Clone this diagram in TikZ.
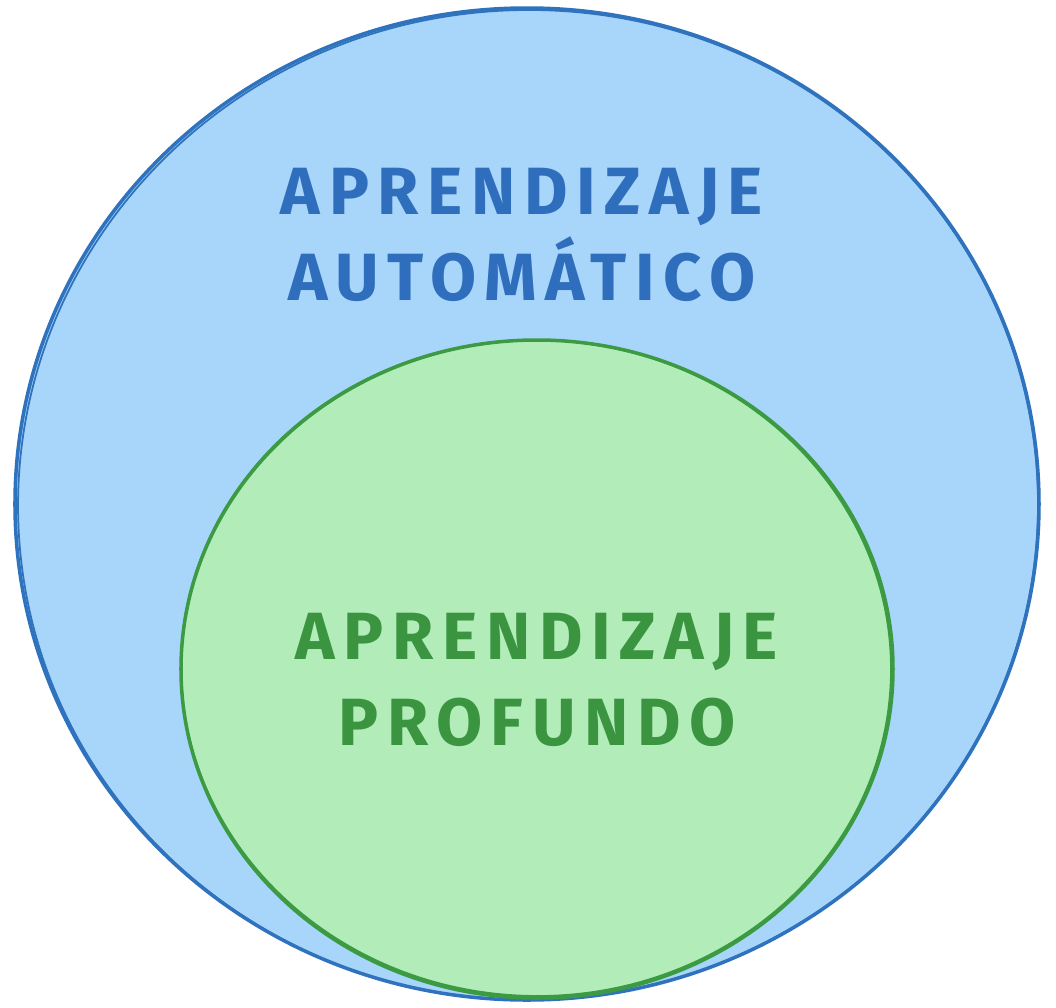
\documentclass[tikz,border=0pt]{standalone}
\usepackage{fontspec}
\setsansfont[LetterSpace=13]{Fira Sans}
\definecolor{outerfill}{HTML}{A8D5FA}
\definecolor{outerline}{HTML}{2F72BE}
\definecolor{innerfill}{HTML}{B2EDB9}
\definecolor{innerline}{HTML}{3C9B42}
\definecolor{outertext}{HTML}{2E6EBC}
\definecolor{innertext}{HTML}{3A9440}
\tikzset{
  setlabel/.style={align=center,font=\sffamily\bfseries\fontsize{19}{24.5}\selectfont},
}
\begin{document}
\begin{tikzpicture}[x=0.01cm,y=-0.01cm]
                            % Frame
                            \useasboundingbox[fill=white] (0,0) rectangle (1056,1008);

                            % Outer set
                            \draw[line width=1pt,outerline,fill=outerfill] (527,504) ellipse [x radius=512,y radius=496];
                            \draw[line width=0.5pt,outerline,rotate around={1.5:(527,504)}] (528,505) ellipse [x radius=510,y radius=495];

                            % Inner set
                            \draw[line width=1pt,innerline,fill=innerfill] (537,669) ellipse [x radius=356,y radius=329];
                            \draw[line width=0.5pt,innerline,rotate around={-1.5:(537,669)}] (536,668) ellipse [x radius=355,y radius=328];

                            % Labels
                            \node[setlabel,text=outertext] (ml) at (522,235) {APRENDIZAJE\\AUTOMÁTICO};
                            \node[setlabel,text=innertext] (dl) at (537,680) {APRENDIZAJE\\PROFUNDO};
\end{tikzpicture}
\end{document}
